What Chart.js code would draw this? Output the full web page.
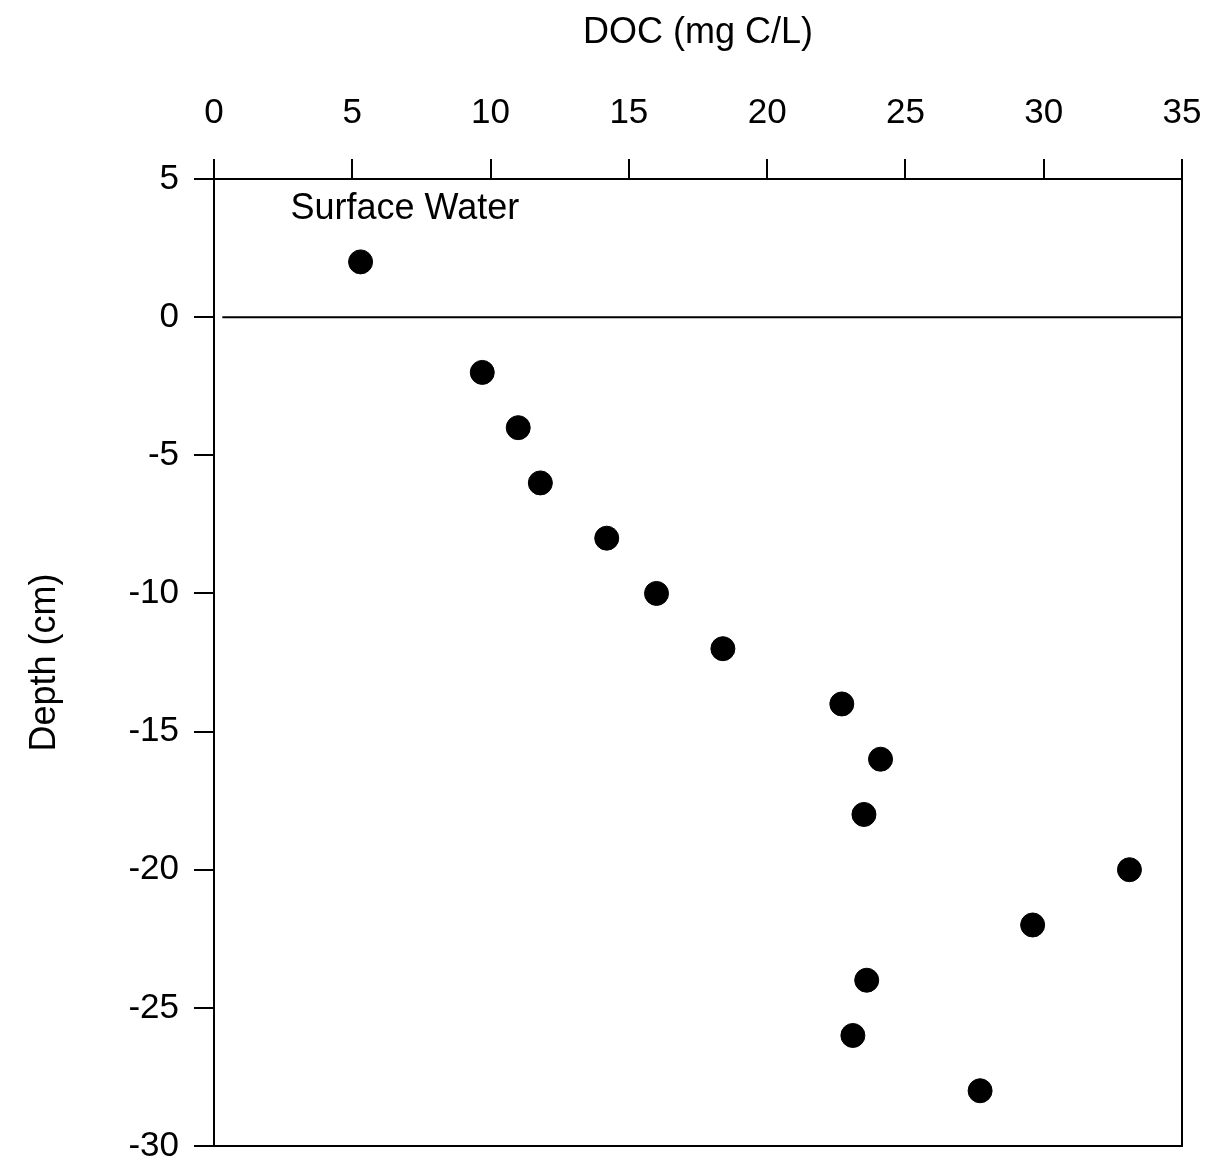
<!DOCTYPE html>
<html>
<head>
<meta charset="utf-8">
<script src="https://cdn.jsdelivr.net/npm/chart.js@4/dist/chart.umd.min.js"></script>
<style>
html,body{margin:0;padding:0;background:#fff;}
#wrap{width:1232px;height:1164px;}
</style>
</head>
<body>
<div id="wrap"><canvas id="c" width="1232" height="1164"></canvas></div>
<script>
const docValues = [5.3, 9.7, 11.0, 11.8, 14.2, 16.0, 18.4, 22.7, 24.1, 23.5, 33.1, 29.6, 23.6, 23.1, 27.7];
const depthValues = [2, -2, -4, -6, -8, -10, -12, -14, -16, -18, -20, -22, -24, -26, -28];
const xTickRange = [0, 35];
const yTickRange = [-30, 5];
const tickStep = 5;
const surfaceLineX = [0.3, 35];
const surfaceLineY = [0, 0];
const annotationText = "Surface Water";
const annotationPos = [6.9, 3.9];
const xTitle = "DOC (mg C/L)";
const yTitle = "Depth (cm)";

const FONT = "'Liberation Sans', Arial, sans-serif";

const points = docValues.map((v, i) => ({x: v, y: depthValues[i]}));
const lineData = surfaceLineX.map((v, i) => ({x: v, y: surfaceLineY[i]}));

const framePlugin = {
  id: 'frame',
  afterDraw(chart) {
    const {ctx, chartArea: a, scales} = chart;
    ctx.save();
    ctx.strokeStyle = '#000';
    ctx.lineWidth = 2;
    ctx.strokeRect(a.left, a.top, a.right - a.left, a.bottom - a.top);
    ctx.fillStyle = '#000';
    ctx.font = "36px " + FONT;
    ctx.textAlign = 'center';
    ctx.textBaseline = 'middle';
    ctx.fillText(annotationText, scales.x.getPixelForValue(annotationPos[0]), scales.y.getPixelForValue(annotationPos[1]));
    ctx.restore();
  }
};

new Chart(document.getElementById('c'), {
  type: 'scatter',
  data: {
    datasets: [
      {
        data: points,
        backgroundColor: '#000',
        borderColor: '#000',
        pointRadius: 12,
        pointHoverRadius: 12
      },
      {
        type: 'line',
        data: lineData,
        borderColor: '#000',
        borderWidth: 2,
        pointRadius: 0,
        fill: false
      }
    ]
  },
  options: {
    responsive: false,
    animation: false,
    events: [],
    layout: {padding: {left: 0, top: 0, right: 50, bottom: 18}},
    plugins: {legend: {display: false}, tooltip: {enabled: false}},
    scales: {
      x: {
        type: 'linear',
        position: 'top',
        min: xTickRange[0],
        max: xTickRange[1],
        ticks: {stepSize: tickStep, color: '#000', font: {family: FONT, size: 35}, padding: 25, maxRotation: 0},
        grid: {display: true, drawOnChartArea: false, drawTicks: true, tickLength: 20, color: '#000', lineWidth: 2},
        border: {display: true, color: '#000', width: 2},
        title: {display: true, text: xTitle, color: '#000', font: {family: FONT, size: 36}, padding: {top: 11, bottom: 0}},
        afterFit(scale) { scale.height = 179; scale.paddingLeft = 0; scale.paddingRight = 0; }
      },
      y: {
        type: 'linear',
        min: yTickRange[0],
        max: yTickRange[1],
        ticks: {stepSize: tickStep, color: '#000', font: {family: FONT, size: 35}, padding: 15},
        grid: {display: true, drawOnChartArea: false, drawTicks: true, tickLength: 20, color: '#000', lineWidth: 2},
        border: {display: true, color: '#000', width: 2},
        title: {display: true, text: yTitle, color: '#000', font: {family: FONT, size: 36}, padding: {top: 23, bottom: 0}},
        afterFit(scale) { scale.width = 214; scale.paddingTop = 0; scale.paddingBottom = 0; }
      }
    }
  },
  plugins: [framePlugin]
});
</script>
</body>
</html>
